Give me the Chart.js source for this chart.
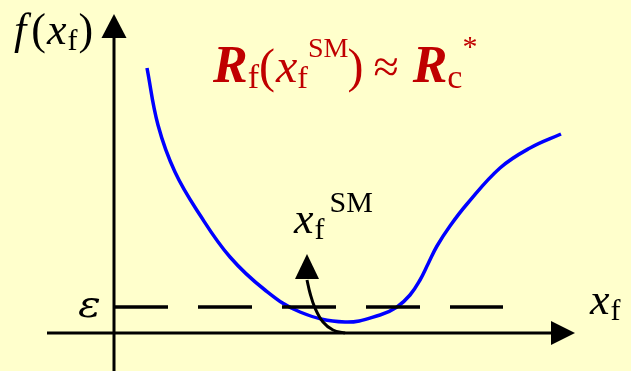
<!DOCTYPE html>
<html>
<head>
<meta charset="utf-8">
<script src="https://cdn.jsdelivr.net/npm/chart.js@4/dist/chart.umd.min.js"></script>
<style>
  html, body { margin: 0; padding: 0; background: #FFFFCC; }
  canvas { display: block; }
</style>
</head>
<body>
<canvas id="c" width="631" height="371"></canvas>
<script>
// Objective function f(x_f) sampled along x_f
const curveX = [3.3, 4.4, 6.1, 8.6, 11.6, 15.1, 18.6, 23.1, 26.6, 28.3, 29.6, 30.6, 31.4, 32.3, 33.6, 35.3, 38.6, 41.6, 44.7];
const curveY = [26.5, 20.8, 16.1, 11.8, 7.6, 4.3, 2.1, 1.1, 1.8, 2.6, 3.8, 5.3, 6.9, 8.7, 10.7, 12.9, 16.5, 18.5, 19.9];

// Tolerance level epsilon and its extent along x_f
const epsilonLevel = 2.6;
const epsilonSpan = [0, 38.9];

// Path of the arrow pointing at the space-mapping solution x_f^SM
const smPathX = [23.1, 21.9, 20.9, 20.1, 19.6, 19.3];
const smPathY = [0, 0.3, 1.1, 2.5, 4.0, 5.3];
const smTip = [19.3, 7.9];

// Axis extents (the last value is the arrow tip)
const xAxisSpan = [-6.7, 46.1];
const yAxisSpan = [-3.8, 31.9];

const SERIF = "'Liberation Serif', 'Times New Roman', serif";
const zip = (xs, ys) => xs.map((x, i) => ({ x, y: ys[i] }));

function drawRuns(ctx, x, y, items) {
  for (const it of items) {
    ctx.font = it.font;
    ctx.fillStyle = it.color || '#000';
    const sx = it.sx || 1;
    ctx.save();
    ctx.translate(x + (it.dx || 0), y + (it.dy || 0));
    ctx.scale(sx, 1);
    ctx.fillText(it.text, 0, 0);
    ctx.restore();
    x += ctx.measureText(it.text).width * sx + (it.dx || 0) + (it.after || 0);
  }
}

function arrowHead(ctx, tipX, tipY, dirX, dirY, len, half) {
  const bx = tipX - dirX * len, by = tipY - dirY * len;
  const px = -dirY, py = dirX;
  ctx.beginPath();
  ctx.moveTo(tipX, tipY);
  ctx.lineTo(bx + px * half, by + py * half);
  ctx.lineTo(bx - px * half, by - py * half);
  ctx.closePath();
  ctx.fill();
}

const sketch = {
  id: 'sketch',
  afterDatasetsDraw(chart) {
    const ctx = chart.ctx;
    const xs = chart.scales.x, ys = chart.scales.y;
    const ox = xs.getPixelForValue(0), oy = ys.getPixelForValue(0);
    ctx.save();
    ctx.strokeStyle = '#000';
    ctx.fillStyle = '#000';
    ctx.lineWidth = 3;
    ctx.lineCap = 'butt';

    // horizontal axis
    const xTip = xs.getPixelForValue(xAxisSpan[1]);
    ctx.beginPath();
    ctx.moveTo(xs.getPixelForValue(xAxisSpan[0]), oy);
    ctx.lineTo(xTip - 20, oy);
    ctx.stroke();
    arrowHead(ctx, xTip, oy, 1, 0, 24, 12);

    // vertical axis
    const yTip = ys.getPixelForValue(yAxisSpan[1]);
    ctx.beginPath();
    ctx.moveTo(ox, ys.getPixelForValue(yAxisSpan[0]));
    ctx.lineTo(ox, yTip + 20);
    ctx.stroke();
    arrowHead(ctx, ox, yTip, 0, -1, 24, 12.5);

    // arrow head at x_f^SM
    arrowHead(ctx, xs.getPixelForValue(smTip[0]), ys.getPixelForValue(smTip[1]), 0, -1, 25, 12);

    ctx.textBaseline = 'alphabetic';

    // f(x_f)
    drawRuns(ctx, 14, 44, [
      { text: 'f', font: `italic 44px ${SERIF}` },
      { text: '(', font: `44px ${SERIF}`, dx: 5 },
      { text: 'x', font: `italic 44px ${SERIF}`, dx: 1 },
      { text: 'f', font: `30px ${SERIF}`, dy: 6, dx: 1 },
      { text: ')', font: `44px ${SERIF}`, dx: 1 }
    ]);

    // epsilon
    drawRuns(ctx, 78, 317, [{ text: 'ε', font: `italic 38px 'DejaVu Serif', ${SERIF}`, sx: 1.12 }]);

    // x_f axis label
    drawRuns(ctx, 590, 314, [
      { text: 'x', font: `italic 44px ${SERIF}` },
      { text: 'f', font: `30px ${SERIF}`, dy: 6, dx: 1 }
    ]);

    // x_f^SM
    drawRuns(ctx, 294, 233, [
      { text: 'x', font: `italic 44px ${SERIF}` },
      { text: 'f', font: `30px ${SERIF}`, dy: 6, dx: 1 },
      { text: 'SM', font: `30px ${SERIF}`, dy: -21, dx: 5 }
    ]);

    // R_f(x_f^SM) ≈ R_c^*
    const red = '#C00000';
    drawRuns(ctx, 213, 82, [
      { text: 'R', font: `italic bold 52px ${SERIF}`, color: red },
      { text: 'f', font: `34px ${SERIF}`, color: red, dy: 6 },
      { text: '(', font: `48px ${SERIF}`, color: red },
      { text: 'x', font: `italic 48px ${SERIF}`, color: red, dx: 1 },
      { text: 'f', font: `32px ${SERIF}`, color: red, dy: 6 },
      { text: 'SM', font: `28px ${SERIF}`, color: red, dy: -25 },
      { text: ')', font: `48px ${SERIF}`, color: red, dx: -1 },
      { text: '≈', font: `46px ${SERIF}`, color: red, dx: 10 },
      { text: 'R', font: `italic bold 52px ${SERIF}`, color: red, dx: 14 },
      { text: 'c', font: `34px ${SERIF}`, color: red, dy: 6 },
      { text: '*', font: `30px ${SERIF}`, color: red, dy: -26 }
    ]);
    ctx.restore();
  }
};

new Chart(document.getElementById('c'), {
  type: 'scatter',
  data: {
    datasets: [
      {
        data: zip(smPathX, smPathY),
        showLine: true, borderColor: '#000', borderWidth: 3,
        tension: 0.4, pointRadius: 0, order: 1
      },
      {
        data: [{ x: epsilonSpan[0], y: epsilonLevel }, { x: epsilonSpan[1], y: epsilonLevel }],
        showLine: true, borderColor: '#000', borderWidth: 3.5,
        borderDash: [54, 30], borderCapStyle: 'butt', pointRadius: 0, order: 2
      },
      {
        data: zip(curveX, curveY),
        showLine: true, borderColor: '#0000FF', borderWidth: 3.5,
        tension: 0.4, pointRadius: 0, order: 3
      }
    ]
  },
  options: {
    responsive: false,
    animation: false,
    devicePixelRatio: 1,
    layout: { padding: 0 },
    plugins: { legend: { display: false }, tooltip: { enabled: false } },
    scales: {
      x: { type: 'linear', min: -11.4, max: 51.7, display: false },
      y: { type: 'linear', min: -3.8, max: 33.3, display: false }
    }
  },
  plugins: [sketch]
});
</script>
</body>
</html>
